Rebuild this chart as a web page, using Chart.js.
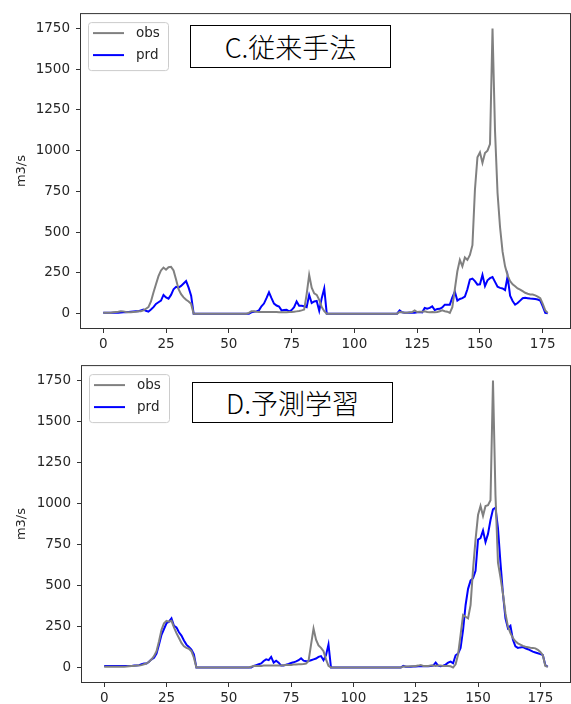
<!DOCTYPE html>
<html>
<head>
<meta charset="utf-8">
<script src="https://cdn.jsdelivr.net/npm/chart.js@4"></script>
<style>
  body { margin: 0; background: #fff; width: 571px; height: 704px; overflow: hidden; position: relative; }
  .panel { position: absolute; left: 0; }
  .tag {
    position: absolute; box-sizing: border-box; border: 1px solid #000; background: #fff;
    display: flex; align-items: center; justify-content: center;
    font-family: "Noto Sans CJK JP", "Noto Sans", sans-serif; font-size: 27px; font-weight: 300; color: #000;
  }
</style>
</head>
<body>
<div class="panel" style="top:0"><canvas id="chartC" width="571" height="352"></canvas></div>
<div class="panel" style="top:352px"><canvas id="chartD" width="571" height="352"></canvas></div>
<div class="tag" style="left:190px;top:25px;width:201px;height:43px">C.従来手法</div>
<div class="tag" style="left:192px;top:382px;width:201px;height:41px">D.予測学習</div>
<script>
const xTicks = [0, 25, 50, 75, 100, 125, 150, 175];
const yTicks = [0, 250, 500, 750, 1000, 1250, 1500, 1750];

// C. conventional method
const obsC = [
    5, 5, 5, 6, 8, 10, 12, 15, 14, 10,
    8, 8, 10, 12, 15, 15, 20, 30, 40, 75,
    130, 180, 230, 265, 283, 270, 285, 287, 265, 210,
    150, 120, 100, 85, 75, 60, 0, 0, 0, 0,
    0, 0, 0, 0, 0, 0, 0, 0, 0, 0,
    0, 0, 0, 0, 0, 0, 0, 0, 5, 15,
    15, 12, 10, 10, 10, 10, 10, 10, 10, 10,
    8, 8, 8, 8, 10, 10, 12, 14, 16, 20,
    25, 120, 238, 160, 125, 115, 85, 40, 15, 0,
    0, 0, 0, 0, 0, 0, 0, 0, 0, 0,
    0, 0, 0, 0, 0, 0, 0, 0, 0, 0,
    0, 0, 0, 0, 0, 0, 0, 0, 10, 8,
    6, 6, 8, 10, 20, 10, 12, 12, 15, 10,
    8, 10, 8, 10, 15, 20, 15, 12, 5, 40,
    150, 260, 330, 290, 345, 330, 360, 420, 760, 960,
    990, 925, 985, 1000, 1040, 1750, 1120, 740, 530, 380,
    290, 235, 200, 180, 168, 155, 148, 138, 128, 122,
    118, 117, 112, 105, 95, 60, 20, 5
];
const prdC = [
    5, 5, 5, 5, 6, 6, 6, 7, 8, 8,
    10, 12, 14, 15, 15, 20, 25, 18, 12, 25,
    40, 60, 70, 80, 115, 100, 92, 115, 150, 165,
    160, 170, 185, 200, 160, 110, 0, 0, 0, 0,
    0, 0, 0, 0, 0, 0, 0, 0, 0, 0,
    0, 0, 0, 0, 0, 0, 0, 0, 0, 8,
    12, 14, 20, 45, 62, 95, 131, 95, 62, 50,
    44, 20, 22, 24, 14, 22, 40, 75, 48, 48,
    45, 40, 115, 65, 75, 78, 18, 95, 155, 0,
    0, 0, 0, 0, 0, 0, 0, 0, 0, 0,
    0, 0, 0, 0, 0, 0, 0, 0, 0, 0,
    0, 0, 0, 0, 0, 0, 0, 0, 20, 8,
    5, 5, 5, 5, 5, 8, 10, 8, 35, 30,
    35, 45, 22, 28, 30, 38, 55, 55, 55, 100,
    135, 80, 90, 95, 105, 150, 210, 215, 200, 178,
    180, 238, 170, 205, 218, 225, 195, 165, 158, 155,
    145, 228, 110, 78, 55, 65, 80, 95, 97, 95,
    93, 92, 90, 87, 80, 45, 5, 2
];

// D. predictive learning
const obsD = [
    5, 5, 5, 5, 5, 5, 5, 5, 5, 6,
    8, 10, 10, 12, 12, 15, 20, 25, 35, 50,
    70, 100, 160, 230, 270, 285, 280, 285, 245, 210,
    180, 150, 130, 120, 115, 100, 60, 0, 0, 0,
    0, 0, 0, 0, 0, 0, 0, 0, 0, 0,
    0, 0, 0, 0, 0, 0, 0, 0, 0, 5,
    10, 10, 10, 10, 12, 12, 12, 12, 12, 12,
    12, 12, 14, 15, 15, 16, 18, 18, 20, 20,
    22, 25, 40, 140, 238, 170, 135, 120, 100, 50,
    10, 0, 0, 0, 0, 0, 0, 0, 0, 0,
    0, 0, 0, 0, 0, 0, 0, 0, 0, 0,
    0, 0, 0, 0, 0, 0, 0, 0, 0, 0,
    6, 6, 6, 8, 8, 10, 12, 16, 10, 10,
    10, 12, 12, 10, 12, 12, 10, 10, 10, 8,
    0, 20, 80, 200, 320, 310, 300, 380, 600, 780,
    930, 985, 925, 985, 990, 1020, 1750, 1050, 640, 550,
    450, 330, 250, 210, 180, 160, 148, 140, 132, 127,
    124, 121, 120, 117, 108, 95, 75, 10, 5
];
const prdD = [
    10, 10, 10, 10, 10, 10, 10, 10, 10, 10,
    10, 10, 12, 12, 15, 20, 25, 25, 35, 50,
    60, 85, 140, 200, 235, 270, 280, 300, 255, 245,
    215, 195, 165, 140, 125, 110, 80, 0, 0, 0,
    0, 0, 0, 0, 0, 0, 0, 0, 0, 0,
    0, 0, 0, 0, 0, 0, 0, 0, 0, 0,
    10, 15, 20, 25, 40, 50, 45, 65, 30, 42,
    30, 12, 12, 18, 22, 28, 32, 38, 45, 57,
    42, 38, 40, 45, 50, 55, 65, 70, 45, 75,
    141, 0, 0, 0, 0, 0, 0, 0, 0, 0,
    0, 0, 0, 0, 0, 0, 0, 0, 0, 0,
    0, 0, 0, 0, 0, 0, 0, 0, 0, 0,
    10, 5, 5, 5, 6, 6, 8, 8, 8, 10,
    8, 10, 12, 30, 12, 8, 12, 18, 30, 36,
    26, 75, 85, 120, 230, 380, 480, 530, 545, 590,
    780, 790, 835, 765, 815, 900, 965, 975, 850, 640,
    450, 300, 240, 255, 170, 130, 120, 123, 125, 118,
    112, 105, 97, 92, 87, 82, 77, 15, 5
];

const TEXT = "#262626";
const AXIS = "#333";

// box round the plot and a matplotlib-like legend in the top-left corner
const frameAndLegend = {
    id: "frameAndLegend",
    afterDraw(chart) {
        const { ctx, chartArea: a } = chart;
        ctx.save();
        ctx.strokeStyle = AXIS;
        ctx.lineWidth = 1;
        ctx.strokeRect(a.left - 0.5, a.top - 0.5, a.right - a.left + 1, a.bottom - a.top + 1);

        const x = a.left + 7, y = a.top + 8;
        ctx.beginPath();
        ctx.roundRect(x + 0.5, y + 0.5, 80, 48, 3);
        ctx.fillStyle = "rgba(255,255,255,0.8)";
        ctx.fill();
        ctx.strokeStyle = "#cccccc";
        ctx.stroke();

        ctx.font = "13.5px 'DejaVu Sans'";
        ctx.textBaseline = "middle";
        chart.data.datasets.forEach((ds, i) => {
            const ly = y + 11 + i * 22;
            ctx.strokeStyle = ds.borderColor;
            ctx.lineWidth = 2;
            ctx.beginPath();
            ctx.moveTo(x + 5, ly);
            ctx.lineTo(x + 36, ly);
            ctx.stroke();
            ctx.fillStyle = TEXT;
            ctx.fillText(ds.label, x + 48, ly);
        });
        ctx.restore();
    }
};

function makeChart(id, obs, prd, opts) {
    const tickFont = { family: "DejaVu Sans", size: 13.5 };
    return new Chart(document.getElementById(id), {
        type: "line",
        data: {
            labels: obs.map((_, i) => i),
            datasets: [
                { label: "obs", data: obs, borderColor: "#808080", borderWidth: 2, pointRadius: 0, tension: 0 },
                { label: "prd", data: prd, borderColor: "#0000ff", borderWidth: 2, pointRadius: 0, tension: 0 }
            ]
        },
        options: {
            responsive: false,
            animation: false,
            layout: { padding: { top: opts.padTop, right: 1, left: 0, bottom: 0 } },
            plugins: { legend: { display: false }, tooltip: { enabled: false } },
            scales: {
                x: {
                    type: "linear",
                    min: opts.xMin,
                    max: opts.xMax,
                    afterBuildTicks: (axis) => { axis.ticks = xTicks.map((v) => ({ value: v })); },
                    afterFit: (axis) => { axis.height = opts.xHeight; },
                    grid: { drawOnChartArea: false, tickLength: 5, color: AXIS },
                    border: { display: false },
                    ticks: { color: TEXT, font: tickFont, padding: 3, maxRotation: 0, autoSkip: false, callback: (v) => String(v) }
                },
                y: {
                    type: "linear",
                    min: -88,
                    max: 1838,
                    afterBuildTicks: (axis) => { axis.ticks = yTicks.map((v) => ({ value: v })); },
                    afterFit: (axis) => { axis.width = opts.yWidth; },
                    grid: { drawOnChartArea: false, tickLength: 5, color: AXIS },
                    border: { display: false },
                    ticks: { color: TEXT, font: tickFont, padding: 6, callback: (v) => String(v) },
                    title: { display: true, text: "m3/s", color: TEXT, font: { family: "DejaVu Sans", size: 13 }, padding: { top: 14, bottom: 0 } }
                }
            }
        },
        plugins: [frameAndLegend]
    });
}

makeChart("chartC", obsC, prdC, { padTop: 10, xHeight: 24, yWidth: 81, xMin: -8.85, xMax: 185.85 });
makeChart("chartD", obsD, prdD, { padTop: 12, xHeight: 22, yWidth: 82, xMin: -8.9, xMax: 186.9 });
</script>
</body>
</html>
